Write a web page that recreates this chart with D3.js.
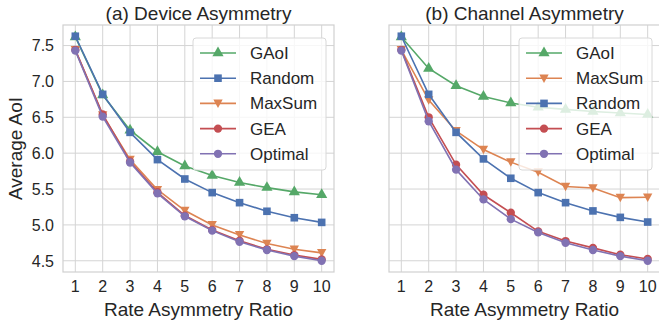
<html>
<head>
<meta charset="utf-8">
<script src="https://cdn.jsdelivr.net/npm/d3@7"></script>
<style>
  body { margin: 0; background: #fff; }
  text { font-family: "Liberation Sans", Arial, sans-serif; fill: #262626; }
</style>
</head>
<body>
<div id="chart"></div>
<script>
// x values (rate asymmetry ratio)
var ratios = [1, 2, 3, 4, 5, 6, 7, 8, 9, 10];
var yTicks = [4.5, 5.0, 5.5, 6.0, 6.5, 7.0, 7.5];

// (a) Device Asymmetry
var devGAoI    = [7.62, 6.81, 6.32, 6.02, 5.82, 5.69, 5.59, 5.52, 5.46, 5.42];
var devRandom  = [7.63, 6.82, 6.29, 5.91, 5.64, 5.45, 5.31, 5.19, 5.10, 5.035];
var devMaxSum  = [7.44, 6.53, 5.91, 5.49, 5.20, 5.00, 4.86, 4.74, 4.66, 4.61];
var devGEA     = [7.44, 6.54, 5.885, 5.455, 5.13, 4.93, 4.78, 4.66, 4.58, 4.52];
var devOptimal = [7.43, 6.51, 5.87, 5.44, 5.12, 4.92, 4.765, 4.65, 4.565, 4.50];

// (b) Channel Asymmetry
var chGAoI    = [7.62, 7.18, 6.94, 6.79, 6.70, 6.64, 6.61, 6.58, 6.56, 6.54];
var chMaxSum  = [7.44, 6.74, 6.31, 6.05, 5.875, 5.735, 5.535, 5.515, 5.38, 5.385];
var chRandom  = [7.63, 6.82, 6.29, 5.92, 5.65, 5.45, 5.31, 5.195, 5.105, 5.04];
var chGEA     = [7.44, 6.50, 5.84, 5.42, 5.17, 4.91, 4.775, 4.68, 4.585, 4.525];
var chOptimal = [7.43, 6.445, 5.77, 5.355, 5.08, 4.895, 4.75, 4.65, 4.565, 4.50];

var colors = { GAoI: "#55A868", Random: "#4C72B0", MaxSum: "#DD8452", GEA: "#C44E52", Optimal: "#8172B3" };
var shapes = { GAoI: d3.symbolTriangle, Random: d3.symbolSquare, MaxSum: "down", GEA: d3.symbolCircle, Optimal: d3.symbolCircle };

var panels = [
  { title: "(a) Device Asymmetry", left: 63, ylabels: true,
    series: [["GAoI", devGAoI], ["Random", devRandom], ["MaxSum", devMaxSum], ["GEA", devGEA], ["Optimal", devOptimal]] },
  { title: "(b) Channel Asymmetry", left: 389, ylabels: false,
    series: [["GAoI", chGAoI], ["MaxSum", chMaxSum], ["Random", chRandom], ["GEA", chGEA], ["Optimal", chOptimal]] }
];

var W = 659, H = 324;
var plotTop = 25, plotBottom = 272, pw = 271;

var svg = d3.select("#chart").append("svg").attr("width", W).attr("height", H);

// shared y extent with 5% margins like matplotlib
var all = [];
panels.forEach(function (p) { p.series.forEach(function (s) { all = all.concat(s[1]); }); });
var ymin = d3.min(all), ymax = d3.max(all), pad = (ymax - ymin) * 0.05;
var y = d3.scaleLinear().domain([ymin - pad, ymax + pad]).range([plotBottom, plotTop]);

function marker(name, size) {
  if (shapes[name] === "down") {
    return "M0," + (size * 0.55) + "L" + (-size * 0.55) + "," + (-size * 0.45) + "L" + (size * 0.55) + "," + (-size * 0.45) + "Z";
  }
  var area = shapes[name] === d3.symbolSquare ? size * size * 0.8 : size * size * 0.75;
  return d3.symbol().type(shapes[name]).size(area)();
}

panels.forEach(function (p) {
  var x = d3.scaleLinear().domain([0.55, 10.45]).range([p.left, p.left + pw]);
  var g = svg.append("g");

  // grid
  g.selectAll(".gx").data(ratios).enter().append("line")
    .attr("x1", d => x(d)).attr("x2", d => x(d)).attr("y1", plotTop).attr("y2", plotBottom)
    .attr("stroke", "#d4d4d4").attr("stroke-width", 1);
  g.selectAll(".gy").data(yTicks).enter().append("line")
    .attr("x1", p.left).attr("x2", p.left + pw).attr("y1", d => y(d)).attr("y2", d => y(d))
    .attr("stroke", "#d4d4d4").attr("stroke-width", 1);

  // frame
  g.append("rect").attr("x", p.left).attr("y", plotTop).attr("width", pw).attr("height", plotBottom - plotTop)
    .attr("fill", "none").attr("stroke", "#d0d0d0").attr("stroke-width", 1.2);

  // x tick labels
  g.selectAll(".xt").data(ratios).enter().append("text")
    .attr("x", d => x(d)).attr("y", 292).attr("text-anchor", "middle")
    .style("font-size", "16px").text(d => d);
  if (p.ylabels) {
    g.selectAll(".yt").data(yTicks).enter().append("text")
      .attr("x", 54).attr("y", d => y(d) + 5.8).attr("text-anchor", "end")
      .style("font-size", "16px").text(d => d.toFixed(1));
    g.append("text").attr("transform", "translate(22," + ((plotTop + plotBottom) / 2) + ") rotate(-90)")
      .attr("text-anchor", "middle").style("font-size", "19px").text("Average AoI");
  }
  g.append("text").attr("x", p.left + pw / 2).attr("y", 316).attr("text-anchor", "middle")
    .style("font-size", "19px").text("Rate Asymmetry Ratio");
  g.append("text").attr("x", p.left + pw / 2).attr("y", 20).attr("text-anchor", "middle")
    .style("font-size", "19px").text(p.title);

  // lines and markers
  var line = d3.line().x((d, i) => x(ratios[i])).y(d => y(d));
  p.series.forEach(function (s) {
    var name = s[0], vals = s[1];
    g.append("path").datum(vals).attr("d", line)
      .attr("fill", "none").attr("stroke", colors[name]).attr("stroke-width", 1.6);
    g.selectAll(".m" + name).data(vals).enter().append("path")
      .attr("transform", (d, i) => "translate(" + x(ratios[i]) + "," + y(d) + ")")
      .attr("d", marker(name, 8.5)).attr("fill", colors[name]);
  });

  // legend
  var lx = p.left + pw - 141, ly = 38;
  var lg = g.append("g");
  lg.append("rect").attr("x", lx).attr("y", ly).attr("width", 133).attr("height", 132)
    .attr("rx", 3).attr("fill", "#fff").attr("fill-opacity", 0.8)
    .attr("stroke", "#d8d8d8").attr("stroke-width", 1);
  p.series.forEach(function (s, i) {
    var name = s[0], ry = ly + 15 + i * 25.2;
    lg.append("line").attr("x1", lx + 7).attr("x2", lx + 43).attr("y1", ry).attr("y2", ry)
      .attr("stroke", colors[name]).attr("stroke-width", 1.6);
    lg.append("path").attr("transform", "translate(" + (lx + 25) + "," + ry + ")")
      .attr("d", marker(name, 8.5)).attr("fill", colors[name]);
    lg.append("text").attr("x", lx + 57).attr("y", ry + 6).style("font-size", "17px").text(name);
  });
});
</script>
</body>
</html>
